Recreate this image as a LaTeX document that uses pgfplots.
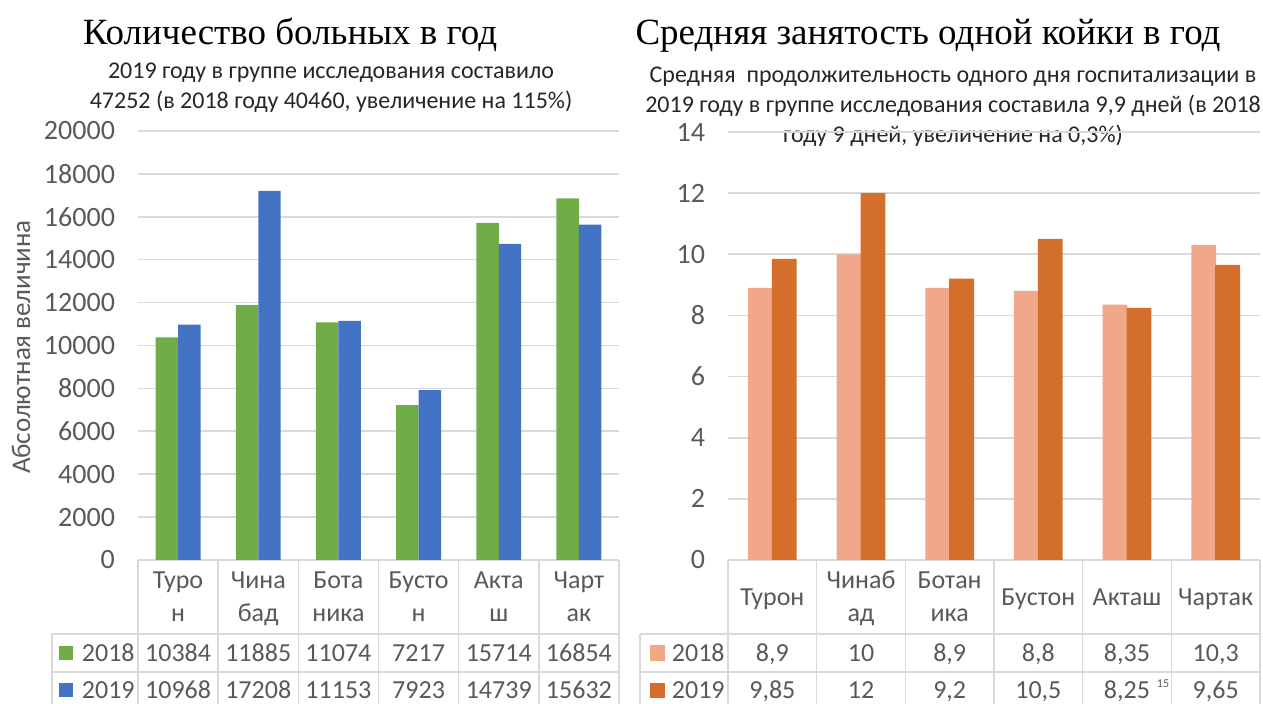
\documentclass[border=0pt]{standalone}
\usepackage{pgfplots}
\pgfplotsset{compat=1.18}
\usepackage{fontspec}
\setmainfont{Carlito}
\newfontfamily\titlefont{Liberation Serif}
\definecolor{txtgray}{HTML}{595959}
\definecolor{subtxt}{HTML}{262626}
\definecolor{gridgray}{HTML}{D9D9D9}
\definecolor{cgreen}{HTML}{70AD47}
\definecolor{cblue}{HTML}{4472C4}
\definecolor{clight}{HTML}{F1A78A}
\definecolor{cdark}{HTML}{D46F2B}
\newcommand{\fs}{\fontsize{13}{16.5}\selectfont}
\newcommand{\tfs}{\fontsize{14}{16.5}\selectfont}
\newcommand{\sfs}{\fontsize{12}{15}\selectfont}
\pgfplotsset{
  tablechart/.style={
    scale only axis, anchor=south west,
    xmin=-0.5, xmax=5.5, ymin=0,
    xtick=\empty,
    ymajorgrids, grid style={draw=gridgray, line width=0.8pt},
    axis line style={draw=none},
    major tick length=0pt,
    ybar, bar width=0.28,
    clip=false,
    /pgf/number format/assume math mode=true,
    scaled y ticks=false,
    yticklabel style={font=\tfs, text=txtgray, /pgf/number format/1000 sep={}, xshift=-8pt},
  },
}
\tikzset{tbl/.style={font=\fs, text=txtgray, inner sep=0pt, anchor=base}}
% cell: x category, baseline offset, text
\newcommand{\cell}[3]{\node[tbl] at ([yshift=#2]axis cs:#1,0) {#3};}
\newcommand{\twoline}[3]{\cell{#1}{-14.3pt}{#2}\cell{#1}{-30.8pt}{#3}}
\newcommand{\oneline}[2]{\cell{#1}{-22.6pt}{#2}}
\newcommand{\rowa}[2]{\cell{#1}{-50.7pt}{#2}}
\newcommand{\rowb}[2]{\cell{#1}{-69.2pt}{#2}}
\begin{document}
\begin{tikzpicture}
\path[use as bounding box] (0,0) rectangle (631.5pt,-352pt);
% titles
\node[font=\titlefont\fontsize{18.5}{22}\selectfont, anchor=base] at (145pt,-22.5pt) {Количество больных в год};
\node[font=\titlefont\fontsize{18.5}{22}\selectfont, anchor=base] at (464pt,-22.5pt) {Средняя занятость одной койки в год};
\node[font=\sfs, text=subtxt, align=center] at (165.5pt,-44pt) {2019 году в группе исследования составило\\47252 (в 2018 году 40460, увеличение на 115\%)};
\node[font=\sfs, text=subtxt, align=center] at (476.5pt,-53.5pt) {Средняя\ \ продолжительность одного дня госпитализации в\\2019 году в группе исследования составила 9,9 дней (в 2018\\году 9 дней, увеличение на 0,3\%)};
\node[font=\fontsize{13.5}{16}\selectfont, text=txtgray, rotate=90] at (10.5pt,-173.5pt) {Абсолютная величина};
\node[font=\fontsize{6}{7}\selectfont, text=txtgray] at (581.5pt,-342pt) {15};

% ---------- left chart ----------
\begin{axis}[tablechart, at={(69pt,-280pt)}, width=240.5pt, height=214.5pt,
  ymax=20000, ytick={0,2000,...,20000}]
\addplot[fill=cgreen, draw=none, bar shift=-0.14] coordinates {(0,10384) (1,11885) (2,11074) (3,7217) (4,15714) (5,16854)};
\addplot[fill=cblue, draw=none, bar shift=0.14] coordinates {(0,10968) (1,17208) (2,11153) (3,7923) (4,14739) (5,15632)};
\pgfplotsinvokeforeach{-0.5,0.5,1.5,2.5,3.5,4.5,5.5}{\draw[gridgray, line width=0.8pt] (axis cs:#1,0) -- ([yshift=-80pt]axis cs:#1,0);}
\draw[gridgray, line width=0.8pt] ([shift={(-43pt,-37pt)}]axis cs:-0.5,0) -- ([yshift=-37pt]axis cs:5.5,0);
\draw[gridgray, line width=0.8pt] ([shift={(-43pt,-56pt)}]axis cs:-0.5,0) -- ([yshift=-56pt]axis cs:5.5,0);
\draw[gridgray, line width=0.8pt] ([shift={(-43pt,-37pt)}]axis cs:-0.5,0) -- ([shift={(-43pt,-80pt)}]axis cs:-0.5,0);
\fill[cgreen] ([shift={(-36pt,-46.5pt)}]axis cs:-0.5,0) ++(-3.5pt,-3.5pt) rectangle ++(7pt,7pt);
\fill[cblue] ([shift={(-36pt,-65pt)}]axis cs:-0.5,0) ++(-3.5pt,-3.5pt) rectangle ++(7pt,7pt);
\node[tbl, anchor=base east] at ([shift={(-1.5pt,-50.7pt)}]axis cs:-0.5,0) {2018};
\node[tbl, anchor=base east] at ([shift={(-1.5pt,-69.2pt)}]axis cs:-0.5,0) {2019};
\twoline{0}{Туро}{н}
\twoline{1}{Чина}{бад}
\twoline{2}{Бота}{ника}
\twoline{3}{Бусто}{н}
\twoline{4}{Акта}{ш}
\twoline{5}{Чарт}{ак}
\rowa{0}{10384}\rowa{1}{11885}\rowa{2}{11074}\rowa{3}{7217}\rowa{4}{15714}\rowa{5}{16854}
\rowb{0}{10968}\rowb{1}{17208}\rowb{2}{11153}\rowb{3}{7923}\rowb{4}{14739}\rowb{5}{15632}
\end{axis}

% ---------- right chart ----------
\begin{axis}[tablechart, at={(364pt,-280pt)}, width=266pt, height=214pt,
  ymax=14, ytick={0,2,...,14}]
\addplot[fill=clight, draw=none, bar shift=-0.135] coordinates {(0,8.9) (1,10) (2,8.9) (3,8.8) (4,8.35) (5,10.3)};
\addplot[fill=cdark, draw=none, bar shift=0.135] coordinates {(0,9.85) (1,12) (2,9.2) (3,10.5) (4,8.25) (5,9.65)};
\pgfplotsinvokeforeach{-0.5,0.5,1.5,2.5,3.5,4.5,5.5}{\draw[gridgray, line width=0.8pt] (axis cs:#1,0) -- ([yshift=-80pt]axis cs:#1,0);}
\draw[gridgray, line width=0.8pt] ([shift={(-44pt,-37pt)}]axis cs:-0.5,0) -- ([yshift=-37pt]axis cs:5.5,0);
\draw[gridgray, line width=0.8pt] ([shift={(-44pt,-56pt)}]axis cs:-0.5,0) -- ([yshift=-56pt]axis cs:5.5,0);
\draw[gridgray, line width=0.8pt] ([shift={(-44pt,-37pt)}]axis cs:-0.5,0) -- ([shift={(-44pt,-80pt)}]axis cs:-0.5,0);
\fill[clight] ([shift={(-35.5pt,-46.5pt)}]axis cs:-0.5,0) ++(-3.75pt,-3.75pt) rectangle ++(7.5pt,7.5pt);
\fill[cdark] ([shift={(-35.5pt,-65pt)}]axis cs:-0.5,0) ++(-3.75pt,-3.75pt) rectangle ++(7.5pt,7.5pt);
\node[tbl, anchor=base east] at ([shift={(-1.5pt,-50.7pt)}]axis cs:-0.5,0) {2018};
\node[tbl, anchor=base east] at ([shift={(-1.5pt,-69.2pt)}]axis cs:-0.5,0) {2019};
\oneline{0}{Турон}
\twoline{1}{Чинаб}{ад}
\twoline{2}{Ботан}{ика}
\oneline{3}{Бустон}
\oneline{4}{Акташ}
\oneline{5}{Чартак}
\rowa{0}{8,9}\rowa{1}{10}\rowa{2}{8,9}\rowa{3}{8,8}\rowa{4}{8,35}\rowa{5}{10,3}
\rowb{0}{9,85}\rowb{1}{12}\rowb{2}{9,2}\rowb{3}{10,5}\rowb{4}{8,25}\rowb{5}{9,65}
\end{axis}
\end{tikzpicture}
\end{document}
